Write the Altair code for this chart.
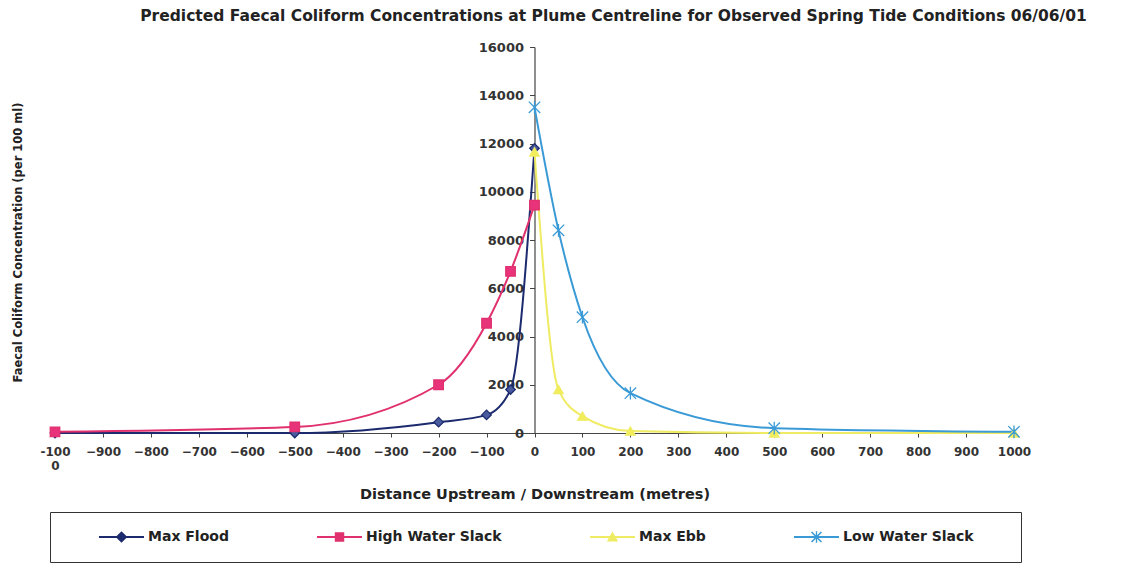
import altair as alt
import pandas as pd

# ---- data ----
series_names = ["Max Flood", "High Water Slack", "Max Ebb", "Low Water Slack"]
flood_dist = [-1000, -500, -200, -100, -50, 0]
flood_vals = [0, 0, 450, 750, 1800, 11800]
hws_dist = [-1000, -500, -200, -100, -50, 0]
hws_vals = [50, 250, 2000, 4550, 6700, 9450]
ebb_dist = [0, 50, 100, 200, 500, 1000]
ebb_vals = [11650, 1800, 700, 80, 0, 0]
lws_dist = [0, 50, 100, 200, 500, 1000]
lws_vals = [13500, 8400, 4800, 1650, 200, 50]
x_ticks = list(range(-1000, 1001, 100))
y_ticks = list(range(0, 16001, 2000))

# ---- styles ----
line_colors = ["#1c2a6e", "#e0306e", "#efeb62", "#3a9ad6"]
line_widths = [2, 2, 3, 2]
marker_fills = ["#4a5c9e", "#e8337a", "#f2ee5a", "transparent"]
marker_shapes = ["diamond", "square", "triangle-up",
                 "M-1.2,-1.2L1.2,1.2M-1.2,1.2L1.2,-1.2M0,-1.35L0,1.35"]
LINE = "M-1,-0.045L1,-0.045L1,0.045L-1,0.045Z"
legend_shapes = [
    LINE + "M0,-0.26L0.26,0L0,0.26L-0.26,0Z",
    LINE + "M-0.21,-0.21L0.21,-0.21L0.21,0.21L-0.21,0.21Z",
    LINE + "M0,-0.25L0.25,0.2L-0.25,0.2Z",
    LINE + "M-0.195,-0.245L0.245,0.195L0.195,0.245L-0.245,-0.195Z"
           "M-0.245,0.195L0.195,-0.245L0.245,-0.195L-0.195,0.245Z"
           "M-0.03,-0.26L0.03,-0.26L0.03,0.26L-0.03,0.26Z",
]
FONT = "DejaVu Sans"
W, H = 959, 386

rows = []
for name, xs, vs in zip(series_names,
                        [flood_dist, hws_dist, ebb_dist, lws_dist],
                        [flood_vals, hws_vals, ebb_vals, lws_vals]):
    for d, v in zip(xs, vs):
        rows.append({"series": name, "distance": d, "value": v})
df = pd.DataFrame(rows)

x_enc = alt.X(
    "distance:Q",
    scale=alt.Scale(domain=[-1000, 1000], nice=False, zero=False),
    axis=alt.Axis(
        values=x_ticks, format="d",
        labelExpr="datum.value == -1000 ? ['-100', '0'] : datum.label",
        title="Distance Upstream / Downstream (metres)",
        titleFont=FONT, titleFontSize=14.5, titleFontWeight="bold", titleColor="#222",
        titleY=61, titleBaseline="middle",
        labelFont=FONT, labelFontSize=12, labelFontWeight="bold", labelColor="#333",
        labelPadding=9, tickSize=4, tickColor="#444", domainColor="#444",
        domainWidth=1.2, grid=False, labelFlush=False, labelOverlap=False,
    ),
)
y_enc = alt.Y(
    "value:Q",
    scale=alt.Scale(domain=[0, 16000], nice=False),
    axis=alt.Axis(
        values=y_ticks, format="d", offset=-W / 2,
        title="Faecal Coliform Concentration (per 100 ml)",
        titleFont=FONT, titleFontSize=11.5, titleFontWeight="bold", titleColor="#222",
        titleX=-516, titleY=195, titleAngle=270, titleAlign="center",
        titleBaseline="middle",
        labelFont=FONT, labelFontSize=13, labelFontWeight="bold", labelColor="#333",
        labelPadding=6, tickSize=5, tickColor="#444", domainColor="#444",
        domainWidth=1.2, grid=False,
    ),
)

base = alt.Chart(df)

lines = base.mark_line(interpolate="monotone").encode(
    x=x_enc, y=y_enc,
    stroke=alt.Stroke("series:N", scale=alt.Scale(domain=series_names, range=line_colors), legend=None),
    strokeWidth=alt.StrokeWidth("series:N", scale=alt.Scale(domain=series_names, range=line_widths), legend=None),
)

points = base.mark_point(size=90, strokeWidth=1.3, opacity=1).encode(
    x=x_enc, y=y_enc,
    fill=alt.Fill("series:N", scale=alt.Scale(domain=series_names, range=marker_fills), legend=None),
    stroke=alt.Stroke("series:N", scale=alt.Scale(domain=series_names, range=line_colors), legend=None),
    shape=alt.Shape("series:N", scale=alt.Scale(domain=series_names, range=marker_shapes), legend=None),
)

leg = alt.Legend(
    orient="none", legendX=-5, legendY=465, direction="horizontal", columns=4,
    columnPadding=88, symbolSize=2025, clipHeight=22, labelOffset=4,
    labelFont=FONT, labelFontSize=14, labelFontWeight="bold", labelColor="#222",
    labelLimit=400, strokeColor="#333", padding=14, title=" ", titleOrient="left",
    titlePadding=35, symbolStrokeWidth=0, symbolOpacity=1,
    labelExpr="datum.label == 'Low Water Slack' ? datum.label + '\u2800\u2800\u2800' : datum.label",
)

# legend-only layer: no rows drawn, its scales carry the legend symbols
legend_layer = base.transform_filter("false").mark_point(size=2025, filled=True).encode(
    x=x_enc, y=y_enc,
    color=alt.Color("series:N", scale=alt.Scale(domain=series_names, range=line_colors), legend=leg),
    shape=alt.Shape("series:N", scale=alt.Scale(domain=series_names, range=legend_shapes), legend=leg),
)

chart = alt.layer(lines, points, legend_layer).resolve_scale(
    stroke="independent", fill="independent", shape="independent",
    color="independent", strokeWidth="independent",
).properties(
    width=W, height=H,
    autosize=alt.AutoSizeParams(type="none"),
    padding={"left": 47, "top": 39, "right": 100, "bottom": 130},
    title=alt.TitleParams(
        text="Predicted Faecal Coliform Concentrations at Plume Centreline for Observed Spring Tide Conditions 06/06/01",
        font=FONT, fontSize=15.5, fontWeight="bold", color="#222",
        anchor="middle", dx=79, dy=-13,
    ),
).configure_view(stroke="transparent")

chart.save("out.html", embed_options={"renderer": "svg", "actions": False})
